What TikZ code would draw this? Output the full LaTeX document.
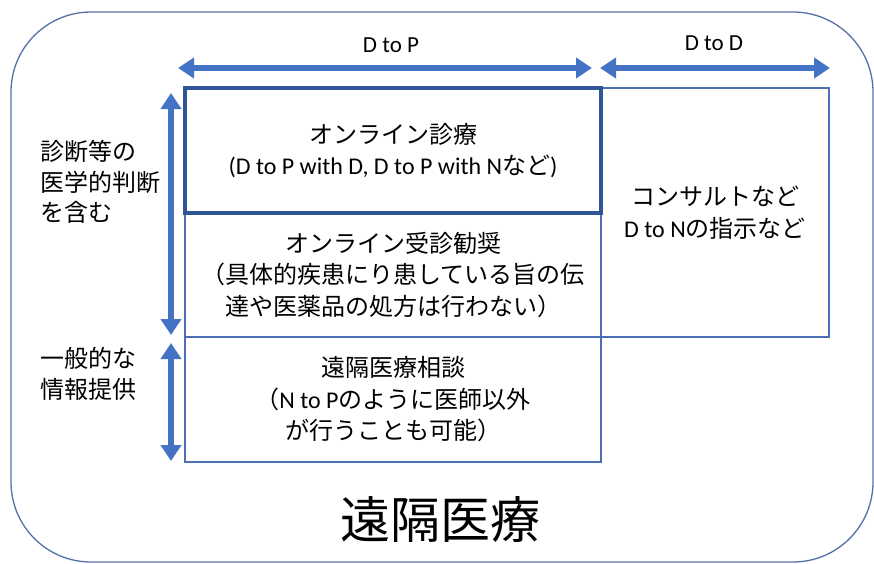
\documentclass[tikz,border=0pt]{standalone}
\usepackage{fontspec}
\setmainfont{Noto Sans CJK JP}
\newfontfamily\latinfont{Carlito}
\usepackage{tikz}
\usetikzlibrary{arrows.meta}
\definecolor{MBlue}{HTML}{4472C4}
\definecolor{MNavy}{HTML}{2F5597}
\definecolor{MLine}{HTML}{4A6FB5}
\definecolor{MFrame}{HTML}{5470A8}
\newcommand{\en}[1]{{\latinfont #1}}

\begin{document}
\begin{tikzpicture}[
  x=1pt,y=-1pt,
  cell/.style={draw=MLine,line width=1.2pt,inner sep=0pt,align=center,
    font=\fontsize{24}{31.5}\selectfont},
  focus/.style={cell,draw=MNavy,line width=4.5pt},
  tag/.style={inner sep=0pt,align=left,font=\fontsize{24}{30.5}\selectfont},
  head/.style={inner sep=0pt,font=\latinfont\fontsize{23}{28}\selectfont},
  span/.style={{Triangle[length=16pt,width=20pt]}-{Triangle[length=16pt,width=20pt]},
    line width=5.5pt,color=MBlue}
]
  \useasboundingbox (0,0) rectangle (874,563);
  \node[draw=MFrame,line width=1.3pt,rounded corners=80pt,
    minimum width=862,minimum height=550] (frame) at (442,287) {};
  \node[font=\fontsize{50}{60}\selectfont,inner sep=0pt] (title) at (440,520) {遠隔医療};

  \node[cell,minimum width=416,minimum height=124] (advice) at (393,275)
    {オンライン受診勧奨\\（具体的疾患にり患している旨の伝\\達や医薬品の処方は行わない）};
  \node[cell,minimum width=416,minimum height=125] (consult) at (393,399.5)
    {遠隔医療相談\\（\en{N to P}のように医師以外\\が行うことも可能）};
  \node[cell,minimum width=228,minimum height=249] (dtod) at (715,212.5)
    {コンサルトなど\\\en{D to N}の指示など};
  \node[focus,minimum width=416,minimum height=125] (online) at (393,150.5)
    {オンライン診療\\\en{(D to P with D, D to P with N}など\en{)}};

  \node[head] (hdp) at (391,45) {D to P};
  \node[head] (hdd) at (714,43) {D to D};
  \node[tag,anchor=west] (judge) at (40,182) {診断等の\\医学的判断\\を含む};
  \node[tag,anchor=west] (inform) at (40,374) {一般的な\\情報提供};

  \coordinate (dpL) at (178,68);
  \coordinate (dpR) at (592,68);
  \coordinate (ddL) at (600,68);
  \coordinate (ddR) at (830,68);
  \coordinate (jTop) at (171,93);
  \coordinate (jBot) at (171,335);
  \coordinate (iTop) at (171,343);
  \coordinate (iBot) at (171,461);
  \draw[span] (dpL) -- (dpR);
  \draw[span] (ddL) -- (ddR);
  \draw[span] (jTop) -- (jBot);
  \draw[span] (iTop) -- (iBot);
\end{tikzpicture}
\end{document}
